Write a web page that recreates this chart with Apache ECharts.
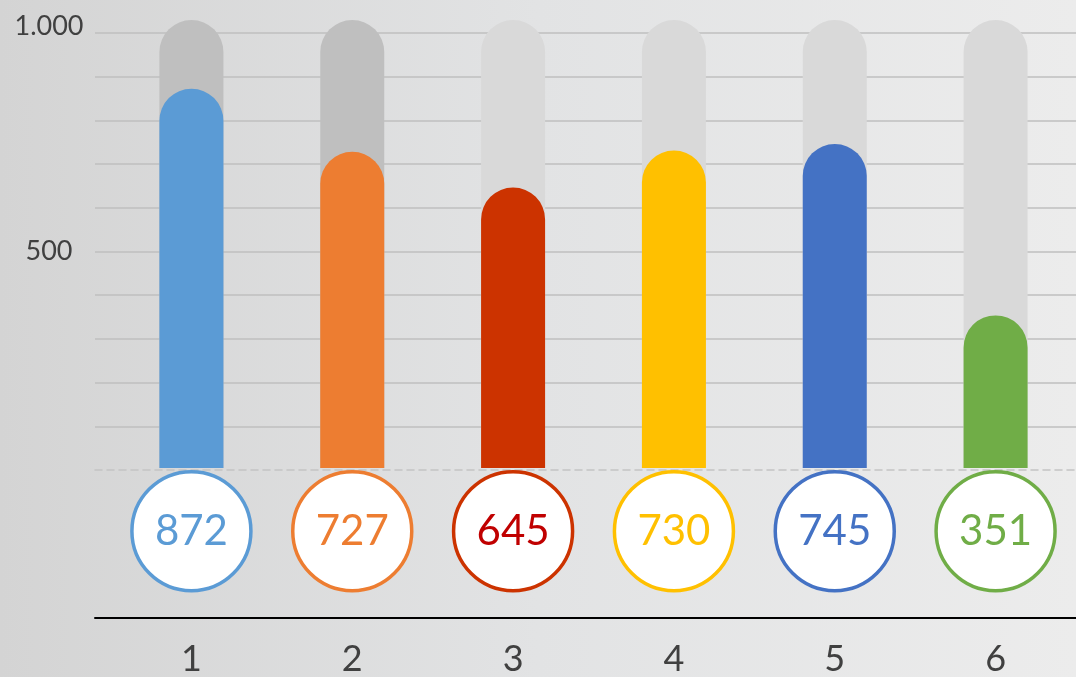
<!DOCTYPE html>
<html>
<head>
<meta charset="utf-8">
<script src="https://cdn.jsdelivr.net/npm/echarts@6/dist/echarts.min.js"></script>
<style>
  html, body { margin: 0; padding: 0; }
  #chart {
    width: 1076px;
    height: 677px;
    background: linear-gradient(to right, #d4d4d4 0%, #e2e3e4 50%, #ececec 100%);
  }
</style>
</head>
<body>
<div id="chart"></div>
<script>
  // chart data
  const categories = ['1', '2', '3', '4', '5', '6']
  const values = [872, 727, 645, 730, 745, 351]
  const trackValues = [1030, 1030, 1030, 1030, 1030, 1030]
  const barColors = ['#5b9bd5', '#ed7d31', '#cc3300', '#ffc000', '#4472c4', '#70ad47']
  const textColors = ['#5b9bd5', '#ed7d31', '#c00000', '#ffc000', '#4472c4', '#70ad47']
  const trackColors = ['#bfbfbf', '#bfbfbf', '#d9d9d9', '#d9d9d9', '#d9d9d9', '#d9d9d9']
  const badgeLevel = -145

  const font = 'Lato, "Open Sans", sans-serif'
  const chart = echarts.init(document.getElementById('chart'))

  const option = {
    animation: false,
    grid: [
      // gridlines 0..1000
      { left: 95, right: 0, top: 33, bottom: 207 },
      // bars and badges
      { left: 111, right: -7, top: 20, bottom: 59 },
      // black baseline
      { left: 95, right: 0, top: 600, bottom: 59 }
    ],
    xAxis: [
      {
        gridIndex: 0, type: 'category', data: categories,
        axisLine: { show: true, lineStyle: { color: '#c4c4c4', width: 1.5, type: [7, 5] } },
        axisTick: { show: false }, axisLabel: { show: false }, splitLine: { show: false }
      },
      {
        gridIndex: 1, type: 'category', data: categories,
        axisLine: { show: false }, axisTick: { show: false },
        axisLabel: { color: '#404040', fontSize: 36, fontFamily: font, margin: 25 }
      },
      {
        gridIndex: 2, type: 'category', data: categories,
        axisLine: { show: true, onZero: false, lineStyle: { color: '#000', width: 2 } },
        axisTick: { show: false }, axisLabel: { show: false }
      }
    ],
    yAxis: [
      {
        gridIndex: 0, type: 'value', min: 0, max: 1000, interval: 100,
        axisLine: { show: false }, axisTick: { show: false },
        splitLine: { showMinLine: false, lineStyle: { color: '#bfbfbf', width: 1.5 } },
        axisLabel: {
          color: '#404040', fontSize: 27, fontFamily: font, align: 'center', margin: 46,
          formatter: function (v) {
            if (v === 1000) return '{top|1.000}'
            if (v === 500) return '500'
            return ''
          },
          rich: {
            top: { color: '#404040', fontSize: 27, fontFamily: font, padding: [0, 0, 14, 0] }
          }
        }
      },
      {
        gridIndex: 1, type: 'value', min: -340, max: 1030,
        show: false, splitLine: { show: false }
      },
      {
        gridIndex: 2, type: 'value', show: false, splitLine: { show: false }
      }
    ],
    series: [
      {
        type: 'bar', xAxisIndex: 1, yAxisIndex: 1,
        barWidth: 64, barGap: '-100%',
        data: trackValues.map((v, i) => ({
          value: v,
          itemStyle: { color: trackColors[i], borderRadius: [32, 32, 0, 0] }
        }))
      },
      {
        type: 'bar', xAxisIndex: 1, yAxisIndex: 1,
        barWidth: 64, barGap: '-100%',
        data: values.map((v, i) => ({
          value: v,
          itemStyle: { color: barColors[i], borderRadius: [32, 32, 0, 0] }
        }))
      },
      {
        type: 'scatter', xAxisIndex: 1, yAxisIndex: 1,
        symbol: 'circle', symbolSize: 119, z: 5,
        data: values.map((v, i) => ({
          value: [categories[i], badgeLevel],
          label: {
            show: true, position: 'inside', formatter: String(v),
            color: textColors[i], fontSize: 42, fontFamily: font
          },
          itemStyle: { color: '#ffffff', borderColor: barColors[i], borderWidth: 3.5, opacity: 1 }
        }))
      }
    ]
  }

  chart.setOption(option)
</script>
</body>
</html>
